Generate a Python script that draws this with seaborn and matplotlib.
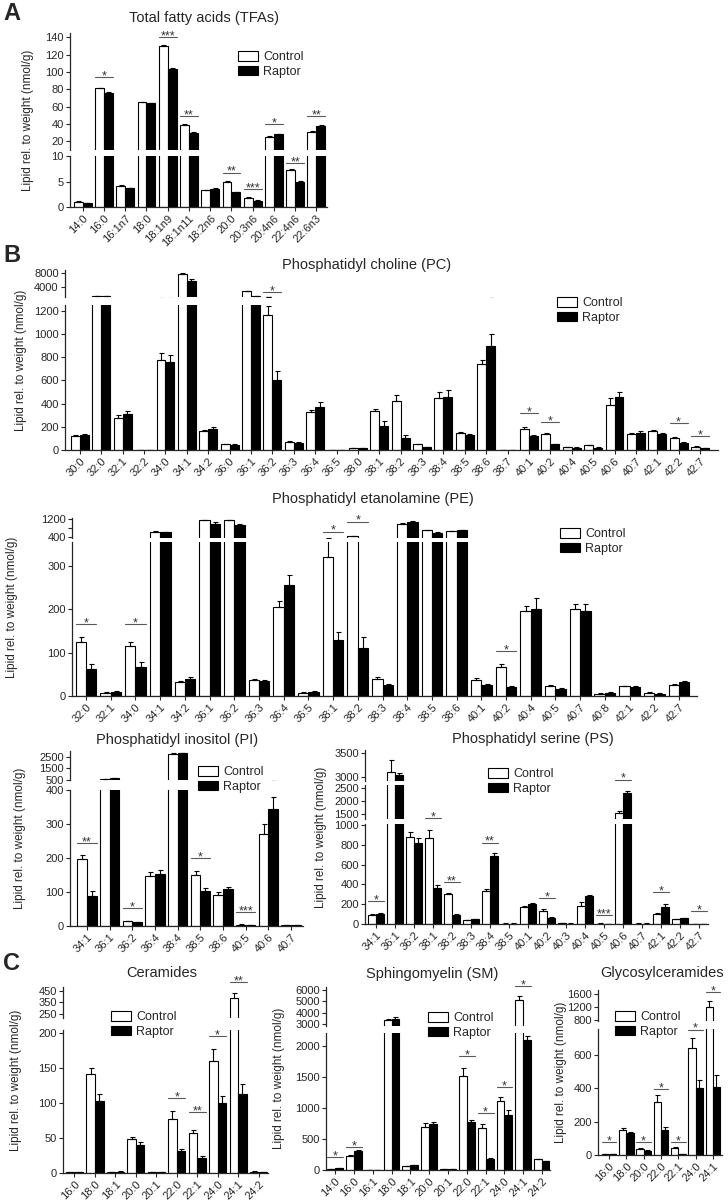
import numpy as np
import pandas as pd
import seaborn as sns
import matplotlib.pyplot as plt
from matplotlib.patches import Patch


# A - total fatty acids
tfa_cats = ['14:0', '16:0', '16:1n7', '18:0', '18:1n9', '18:1n11', '18:2n6',
            '20:0', '20:3n6', '20:4n6', '22:4n6', '22:6n3']
tfa_ctrl = [1.0, 81, 4.1, 65, 130, 39, 3.3, 4.9, 1.8, 25, 7.3, 31]
tfa_ctrl_err = [0.1, 1, 0.3, 0.8, 1, 0.8, 0.1, 0.15, 0.1, 0.8, 0.15, 0.8]
tfa_rapt = [0.8, 76, 3.7, 64, 104, 30, 3.5, 2.9, 1.2, 28, 4.9, 38]
tfa_rapt_err = [0.05, 1, 0.1, 0.8, 1, 1, 0.15, 0.1, 0.1, 0.8, 0.15, 0.8]
tfa_sig = [(1, 0, 94, '*'), (4, 0, 140, '***'), (5, 0, 49, '**'), (7, 1, 6.7, '**'),
           (8, 1, 3.5, '***'), (9, 0, 40, '*'), (10, 1, 8.6, '**'), (11, 0, 49, '**')]

# B - phosphatidyl choline
pc_cats = ['30:0', '32:0', '32:1', '32:2', '34:0', '34:1', '34:2', '36:0', '36:1', '36:2',
           '36:3', '36:4', '36:5', '38:0', '38:1', '38:2', '38:3', '38:4', '38:5', '38:6',
           '38:7', '40:1', '40:2', '40:4', '40:5', '40:6', '40:7', '42:1', '42:2', '42:7']
pc_ctrl = [120, 1550, 280, 2, 780, 7800, 165, 50, 3000, 1160, 70, 325, 3, 15, 335,
           420, 50, 445, 145, 740, 3, 185, 135, 25, 40, 385, 135, 165, 105, 30]
pc_ctrl_err = [8, 60, 20, 0, 60, 400, 10, 5, 80, 80, 5, 20, 0, 3, 20,
               50, 5, 55, 8, 40, 0, 10, 8, 3, 4, 60, 8, 8, 8, 3]
pc_rapt = [130, 1550, 310, 2, 760, 5800, 185, 45, 1550, 600, 60, 375, 3, 15, 210,
           105, 25, 460, 130, 900, 3, 120, 50, 20, 20, 460, 150, 135, 60, 15]
pc_rapt_err = [5, 60, 25, 0, 60, 500, 12, 5, 60, 80, 5, 40, 0, 3, 40,
               25, 4, 60, 8, 100, 0, 10, 5, 2, 3, 40, 10, 10, 5, 2]
pc_sig = [(9, 1, 1362, '*'), (21, 1, 320, '*'), (22, 1, 241, '*'),
          (28, 1, 233, '*'), (29, 1, 120, '*')]

# B - phosphatidyl etanolamine
pe_cats = ['32:0', '32:1', '34:0', '34:1', '34:2', '36:1', '36:2', '36:3', '36:4', '36:5',
           '38:1', '38:2', '38:3', '38:4', '38:5', '38:6', '40:1', '40:2', '40:4', '40:5',
           '40:7', '40:8', '42:1', '42:2', '42:7']
pe_ctrl = [125, 8, 115, 640, 32, 1150, 1150, 38, 205, 8, 320, 450, 40, 1000, 700,
           650, 38, 68, 195, 22, 200, 5, 22, 8, 25]
pe_ctrl_err = [10, 1, 10, 20, 2, 30, 30, 2, 15, 1, 40, 20, 3, 30, 20,
               20, 3, 6, 12, 3, 12, 1, 2, 1, 2]
pe_rapt = [62, 10, 68, 620, 40, 1000, 950, 35, 255, 10, 128, 110, 25, 1050, 600,
           700, 25, 20, 200, 16, 195, 8, 20, 5, 32]
pe_rapt_err = [12, 1, 10, 20, 3, 60, 40, 2, 25, 1, 20, 25, 3, 60, 20,
               30, 3, 4, 25, 2, 17, 1, 2, 1, 3]
pe_sig = [(0, 1, 166, '*'), (2, 1, 166, '*'), (10, 1, 379, '*'),
          (11, 1, 402, '*'), (17, 1, 104, '*')]

# B - phosphatidyl inositol
pi_cats = ['34:1', '36:1', '36:2', '36:4', '38:4', '38:5', '38:6', '40:5', '40:6', '40:7']
pi_ctrl = [198, 550, 15, 148, 2700, 150, 92, 4, 270, 3]
pi_ctrl_err = [12, 20, 1, 12, 150, 12, 8, 1, 30, 0.5]
pi_rapt = [88, 620, 12, 152, 2800, 103, 108, 2, 345, 3]
pi_rapt_err = [15, 20, 1, 12, 60, 10, 8, 0.5, 35, 0.5]
pi_sig = [(0, 1, 243, '**'), (2, 1, 52, '*'), (5, 1, 200, '*'), (7, 1, 40, '***')]

# B - phosphatidyl serine
ps_cats = ['34:1', '36:1', '36:2', '38:1', '38:2', '38:3', '38:4', '38:5', '40:1',
           '40:2', '40:3', '40:4', '40:5', '40:6', '40:7', '42:1', '42:2', '42:7']
ps_ctrl = [90, 3100, 880, 870, 300, 40, 330, 5, 175, 135, 10, 185, 5, 1550, 5, 100, 50, 3]
ps_ctrl_err = [10, 250, 50, 80, 12, 5, 20, 1, 10, 15, 2, 40, 1, 80, 1, 15, 5, 1]
ps_rapt = [100, 3050, 820, 365, 95, 48, 690, 5, 200, 65, 5, 280, 3, 2300, 5, 175, 60, 2]
ps_rapt_err = [10, 30, 50, 30, 5, 5, 25, 1, 10, 5, 1, 10, 1, 80, 1, 30, 5, 1]
ps_sig = [(0, 2, 233, '*'), (3, 2, 1070, '*'), (4, 2, 425, '**'), (6, 2, 820, '**'),
          (9, 2, 263, '*'), (12, 2, 90, '***'), (13, 2, 1457, '*'), (15, 2, 324, '*'),
          (17, 2, 130, '*')]

# C - ceramides
cer_cats = ['16:0', '18:0', '18:1', '20:0', '20:1', '22:0', '22:1', '24:0', '24:1', '24:2']
cer_ctrl = [1, 142, 1, 49, 1, 77, 57, 160, 390, 2]
cer_ctrl_err = [0.3, 8, 0.3, 3, 0.3, 12, 5, 18, 40, 0.3]
cer_rapt = [1, 103, 2, 40, 1, 32, 21, 100, 113, 1]
cer_rapt_err = [0.3, 10, 0.3, 4, 0.3, 3, 3, 10, 15, 0.3]
cer_sig = [(5, 1, 107, '*'), (6, 1, 87, '**'), (7, 1, 196, '*'), (8, 1, 274, '**')]

# C - sphingomyelin
sm_cats = ['14:0', '16:0', '16:1', '18:0', '18:1', '20:0', '20:1', '22:0', '22:1',
           '24:0', '24:1', '24:2']
sm_ctrl = [20, 230, 5, 3300, 60, 700, 10, 1520, 680, 1110, 5100, 170]
sm_ctrl_err = [3, 20, 1, 150, 5, 60, 2, 120, 60, 60, 400, 10]
sm_rapt = [25, 310, 5, 3450, 80, 740, 10, 780, 180, 890, 2100, 140]
sm_rapt_err = [3, 20, 1, 150, 8, 40, 2, 30, 20, 70, 60, 10]
sm_sig = [(0, 1, 210, '*'), (1, 1, 370, '*'), (7, 1, 1840, '*'), (8, 1, 920, '*'),
          (9, 1, 1340, '*'), (10, 1, 2970, '*')]

# C - glycosylceramides
gc_cats = ['16:0', '18:0', '20:0', '22:0', '22:1', '24:0', '24:1']
gc_ctrl = [3, 150, 35, 315, 40, 640, 1200]
gc_ctrl_err = [1, 10, 4, 45, 5, 60, 180]
gc_rapt = [3, 130, 25, 150, 5, 400, 410]
gc_rapt_err = [1, 10, 3, 20, 1, 50, 70]
gc_sig = [(0, 1, 75, '*'), (2, 1, 75, '*'), (3, 1, 394, '*'), (4, 1, 75, '*'),
          (5, 1, 750, '*'), (6, 1, 975, '*')]


W, H = 728, 1200
YLAB = 'Lipid rel. to weight (nmol/g)'

sns.set_style('ticks')
plt.rcParams['font.family'] = ['Liberation Sans', 'DejaVu Sans']
plt.rcParams['axes.linewidth'] = 0.9

fig = plt.figure(figsize=(W / 100, H / 100), dpi=100)


def rect(x0, y0, x1, y1):
    return [x0 / W, 1 - y1 / H, (x1 - x0) / W, (y1 - y0) / H]


def draw_panel(cats, ctrl, ctrl_err, rapt, rapt_err, sig, title,
               x0, x1, xlim, segs, title_xy, ylab_x, leg_xy):
    n = len(cats)
    df = pd.DataFrame({'cat': cats * 2,
                       'val': list(ctrl) + list(rapt),
                       'group': ['Control'] * n + ['Raptor'] * n})
    pos = np.arange(n)
    axes = []
    for k, (y0, y1, lim, ticks) in enumerate(segs):
        ax = fig.add_axes(rect(x0, y0, x1, y1))
        sns.barplot(data=df, x='cat', y='val', hue='group', order=cats,
                    hue_order=['Control', 'Raptor'],
                    palette={'Control': 'white', 'Raptor': 'black'},
                    edgecolor='black', linewidth=0.8, width=0.84,
                    errorbar=None, legend=False, ax=ax)
        ax.errorbar(pos - 0.21, ctrl, yerr=[np.zeros(n), ctrl_err], fmt='none',
                    ecolor='black', elinewidth=0.8, capsize=1.8, capthick=0.8)
        ax.errorbar(pos + 0.21, rapt, yerr=[np.zeros(n), rapt_err], fmt='none',
                    ecolor='black', elinewidth=0.8, capsize=1.8, capthick=0.8)
        ax.set_xlim(xlim)
        ax.set_ylim(lim)
        ax.set_yticks(ticks)
        ax.set_xlabel('')
        ax.set_ylabel('')
        sns.despine(ax=ax)
        ax.tick_params(axis='both', direction='out', length=3, width=0.8,
                       labelsize=8, pad=1.5)
        if k < len(segs) - 1:
            ax.spines['bottom'].set_visible(False)
            ax.tick_params(axis='x', bottom=False, labelbottom=False)
        else:
            ax.set_xticks(pos, cats, rotation=45, ha='right',
                          rotation_mode='anchor')
        axes.append(ax)

    for i, seg, h, txt in sig:
        ax = axes[seg]
        ax.plot([i - 0.42, i + 0.42], [h, h], color='0.35', lw=0.8, clip_on=False)
        ax.annotate(txt, (i, h), xytext=(0, -1.5), textcoords='offset points',
                    ha='center', va='baseline', fontsize=9, color='0.2',
                    annotation_clip=False)

    fig.text(title_xy[0] / W, 1 - title_xy[1] / H, title, ha='center',
             va='center', fontsize=10.5)
    yc = (segs[0][0] + segs[-1][1]) / 2
    fig.text(ylab_x / W, 1 - yc / H, YLAB, rotation=90, ha='center',
             va='center', fontsize=8.5)
    handles = [Patch(facecolor='white', edgecolor='black', linewidth=0.8),
               Patch(facecolor='black', edgecolor='black', linewidth=0.8)]
    fig.legend(handles, ['Control', 'Raptor'], loc='upper left',
               bbox_to_anchor=(leg_xy[0] / W, 1 - leg_xy[1] / H),
               frameon=False, fontsize=9, handlelength=1.6, handleheight=0.8,
               handletextpad=0.4, labelspacing=0.2, borderpad=0,
               borderaxespad=0)
    return axes


draw_panel(tfa_cats, tfa_ctrl, tfa_ctrl_err, tfa_rapt, tfa_rapt_err, tfa_sig,
           'Total fatty acids (TFAs)', 70, 327, (-0.6, 11.5),
           [(33, 150, (10, 145), [20, 40, 60, 80, 100, 120, 140]),
            (156, 207, (0, 10), [0, 5, 10])],
           (204, 18), 28, (238, 51))

draw_panel(pc_cats, pc_ctrl, pc_ctrl_err, pc_rapt, pc_rapt_err, pc_sig,
           'Phosphatidyl choline (PC)', 65, 718, (-0.7, 29.84),
           [(270, 297, (1250, 9000), [4000, 8000]),
            (305, 450, (0, 1250), [0, 200, 400, 600, 800, 1000, 1200])],
           (367, 265), 21, (557, 297))

pe_axes = draw_panel(pe_cats, pe_ctrl, pe_ctrl_err, pe_rapt, pe_rapt_err, pe_sig,
                     'Phosphatidyl etanolamine (PE)', 72, 697, (-0.57, 24.73),
                     [(518, 538, (360, 1250), [400, 800, 1200]),
                      (542, 696, (0, 355), [0, 100, 200, 300])],
                     (373, 499), 12, (560, 528))
pe_axes[0].set_yticks([400, 800, 1200], ['400', '', '1200'])

draw_panel(pi_cats, pi_ctrl, pi_ctrl_err, pi_rapt, pi_rapt_err, pi_sig,
           'Phosphatidyl inositol (PI)', 70, 303, (-0.75, 9.53),
           [(751, 780, (460, 3000), [500, 1500, 2500]),
            (790, 926, (0, 400), [0, 100, 200, 300, 400])],
           (177, 740), 20, (198, 766))

draw_panel(ps_cats, ps_ctrl, ps_ctrl_err, ps_rapt, ps_rapt_err, ps_sig,
           'Phosphatidyl serine (PS)', 365, 708, (-0.58, 17.47),
           [(750, 781, (2920, 3560), [3000, 3500]),
            (785, 819, (1320, 2600), [1500, 2000, 2500]),
            (824, 924, (0, 1010), [0, 200, 400, 600, 800, 1000])],
           (533, 739), 321, (488, 768))

draw_panel(cer_cats, cer_ctrl, cer_ctrl_err, cer_rapt, cer_rapt_err, cer_sig,
           'Ceramides', 63, 268, (-0.56, 9.46),
           [(987, 1018, (215, 480), [250, 350, 450]),
            (1030, 1173, (0, 205), [0, 50, 100, 150, 200])],
           (162, 973), 16, (111, 1011))

draw_panel(sm_cats, sm_ctrl, sm_ctrl_err, sm_rapt, sm_rapt_err, sm_sig,
           'Sphingomyelin (SM)', 326, 550, (-0.48, 11.42),
           [(987, 1026, (2800, 6300), [3000, 4000, 5000, 6000]),
            (1033, 1170, (0, 2210), [0, 500, 1000, 1500, 2000])],
           (432, 974), 279, (428, 1012))

draw_panel(gc_cats, gc_ctrl, gc_ctrl_err, gc_rapt, gc_rapt_err, gc_sig,
           'Glycosylceramides', 598, 722, (-0.64, 6.53),
           [(990, 1021, (760, 1720), [800, 1200, 1600]),
            (1029, 1155, (0, 755), [0, 200, 400, 600])],
           (662, 973), 561, (615, 1011))

for letter, (lx, ly) in {'A': (3, 14), 'B': (3, 255), 'C': (3, 963)}.items():
    fig.text(lx / W, 1 - ly / H, letter, fontsize=17, fontweight='bold',
             va='center', ha='left')

fig.savefig('out.png', dpi=100)
